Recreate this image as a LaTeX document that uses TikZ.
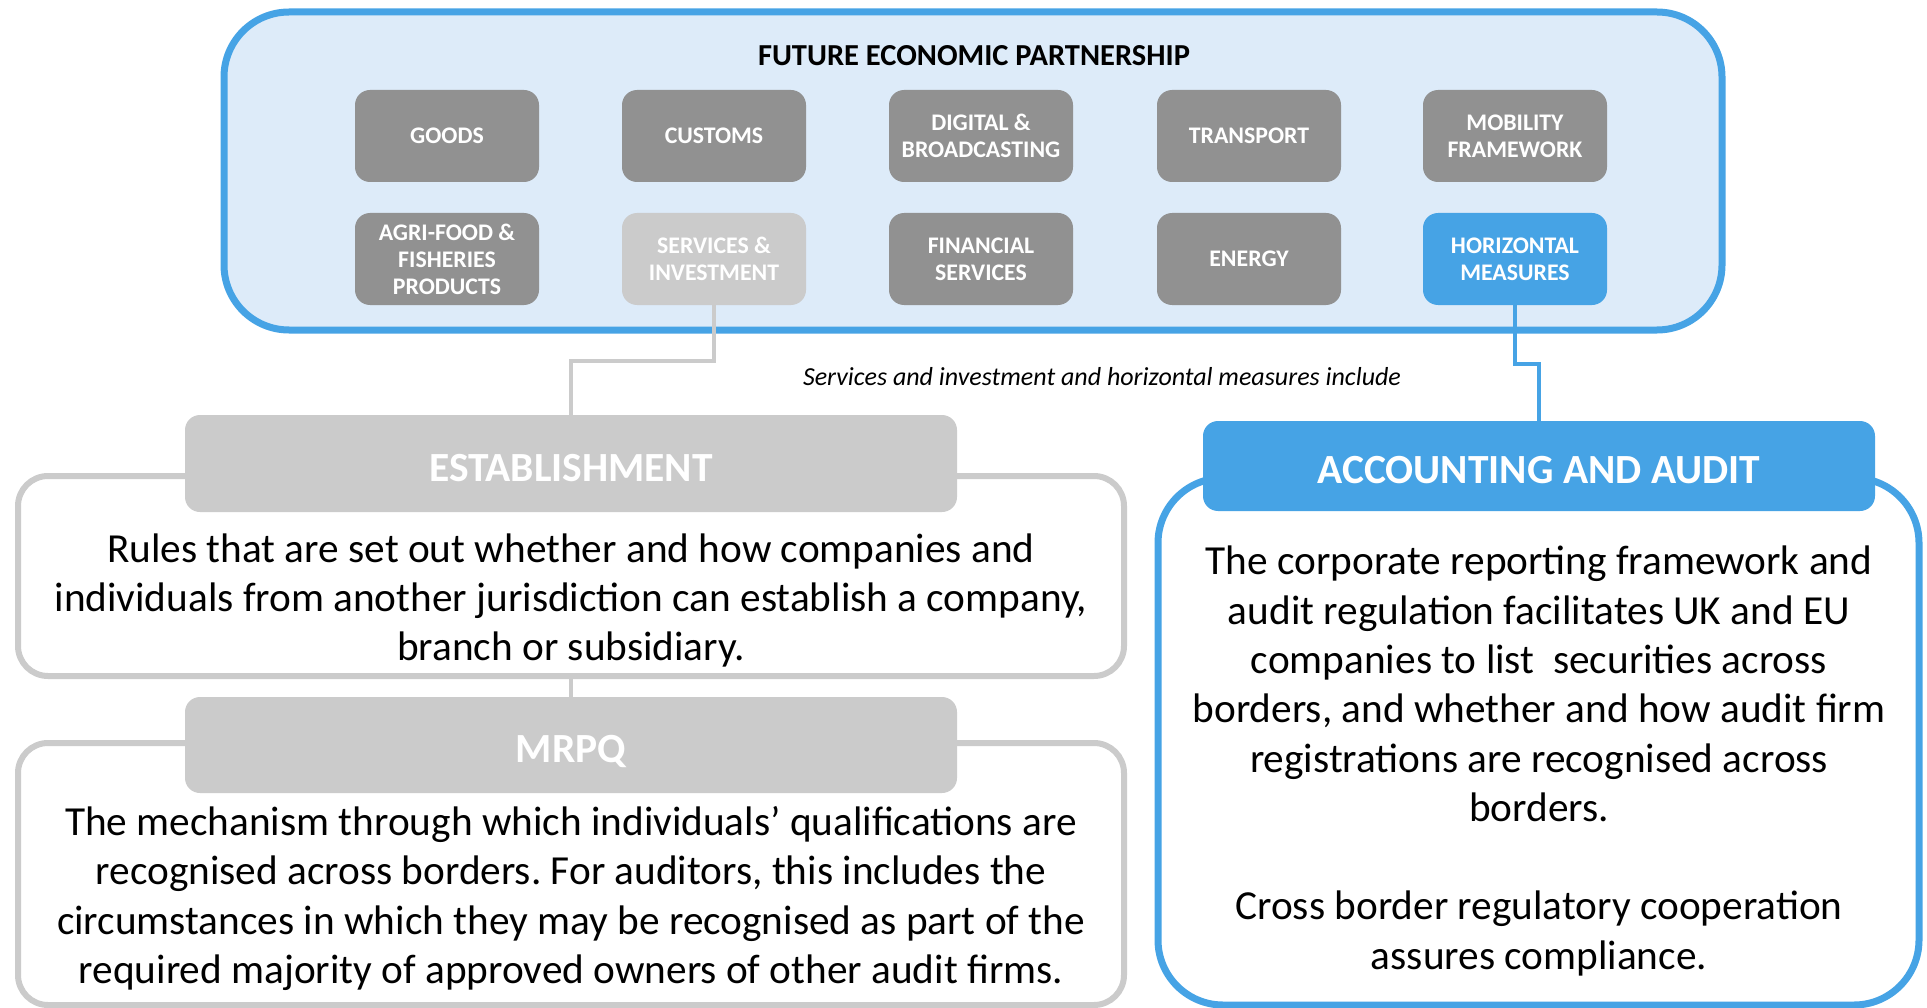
\documentclass[tikz,border=0pt]{standalone}
\usepackage{fontspec}
\setmainfont{Carlito}
\frenchspacing
\definecolor{fepblue}{RGB}{70,163,229}
\definecolor{fepfill}{RGB}{221,235,249}
\definecolor{boxgray}{RGB}{145,145,145}
\definecolor{lightgray2}{RGB}{203,203,203}
\begin{document}
\begin{tikzpicture}[x=1pt,y=-1pt,
  catbox/.style={rounded corners=15pt, minimum width=184pt, minimum height=92pt, text=white,
    font=\fontsize{23.8}{27}\selectfont\bfseries, align=center, inner sep=0pt},
  darkcat/.style={catbox, fill=boxgray},
  lightcat/.style={catbox, fill=lightgray2},
  bluecat/.style={catbox, fill=fepblue},
  header/.style={rounded corners=15pt, text=white, font=\fontsize{41.5}{48}\selectfont\bfseries, inner sep=0pt, text height=35pt, text depth=0pt},
  graypanel/.style={draw=lightgray2, line width=6pt, fill=white, rounded corners=30pt, minimum width=1106pt, inner sep=0pt},
  bodytext/.style={font=\fontsize{41.3}{49.3}\selectfont, align=center, inner sep=0pt},
  grayline/.style={draw=lightgray2, line width=4pt},
  blueline/.style={draw=fepblue, line width=4pt}
]
\useasboundingbox (0,0) rectangle (1927,1008);

% Future economic partnership panel
\node[draw=fepblue, line width=7pt, fill=fepfill, rounded corners=65pt, minimum width=1498pt, minimum height=318pt, inner sep=0pt] (fep) at (973,171) {};
\node[font=\fontsize{30.5}{34}\selectfont\bfseries] (feptitle) at (974,56) {FUTURE ECONOMIC PARTNERSHIP};

\node[darkcat] (goods) at (447,136) {GOODS};
\node[darkcat] (customs) at (714,136) {CUSTOMS};
\node[darkcat] (digital) at (981,136) {DIGITAL \&\\BROADCASTING};
\node[darkcat] (transport) at (1249,136) {TRANSPORT};
\node[darkcat] (mobility) at (1515,136) {MOBILITY\\FRAMEWORK};
\node[darkcat] (agri) at (447,259) {AGRI-FOOD \&\\FISHERIES\\PRODUCTS};
\node[lightcat] (serv) at (714,259) {SERVICES \&\\INVESTMENT};
\node[darkcat] (fin) at (981,259) {FINANCIAL\\SERVICES};
\node[darkcat] (energy) at (1249,259) {ENERGY};
\node[bluecat] (horiz) at (1515,259) {HORIZONTAL\\MEASURES};

\node[font=\fontsize{26}{30}\selectfont\itshape] (incl) at (1102,377) {Services and investment and horizontal measures include};

% Establishment
\node[graypanel, minimum height=200pt] (estb) at (571,576) {};
\node[header, fill=lightgray2, minimum width=772pt, minimum height=97pt] (estH) at (571,463.5) {ESTABLISHMENT};
\node[bodytext] (estT) at (571,600.5) {Rules that are set out whether and how companies and\\individuals from another jurisdiction can establish a company,\\branch or subsidiary.};

% MRPQ
\node[graypanel, minimum height=262pt] (mrpq) at (571,874) {};
\node[header, fill=lightgray2, minimum width=772pt, minimum height=96pt] (mrpqH) at (571,745) {MRPQ};
\node[bodytext] (mrpqT) at (571,898.5) {The mechanism through which individuals’ qualifications are\\recognised across borders. For auditors, this includes the\\circumstances in which they may be recognised as part of the\\required majority of approved owners of other audit firms.};

% Accounting and audit
\node[draw=fepblue, line width=7pt, fill=white, rounded corners=65pt, minimum width=761pt, minimum height=527pt, inner sep=0pt] (acc) at (1538.5,741.5) {};
\node[header, fill=fepblue, minimum width=672pt, minimum height=90pt] (accH) at (1539,466) {ACCOUNTING AND AUDIT};
\node[bodytext] (accT) at (1539,761) {The corporate reporting framework and\\audit regulation facilitates UK and EU\\companies to list\ \ securities across\\borders, and whether and how audit firm\\registrations are recognised across\\borders.\\[49.3pt]Cross border regulatory cooperation\\assures compliance.};

% connectors
\draw[grayline] (serv.south) -- (serv.south |- 0,361) -| (estH.north);
\draw[grayline] (estb.south) -- (mrpqH.north);
\draw[blueline] (horiz.south) -- (horiz.south |- 0,364) -| (accH.north);
\end{tikzpicture}
\end{document}
